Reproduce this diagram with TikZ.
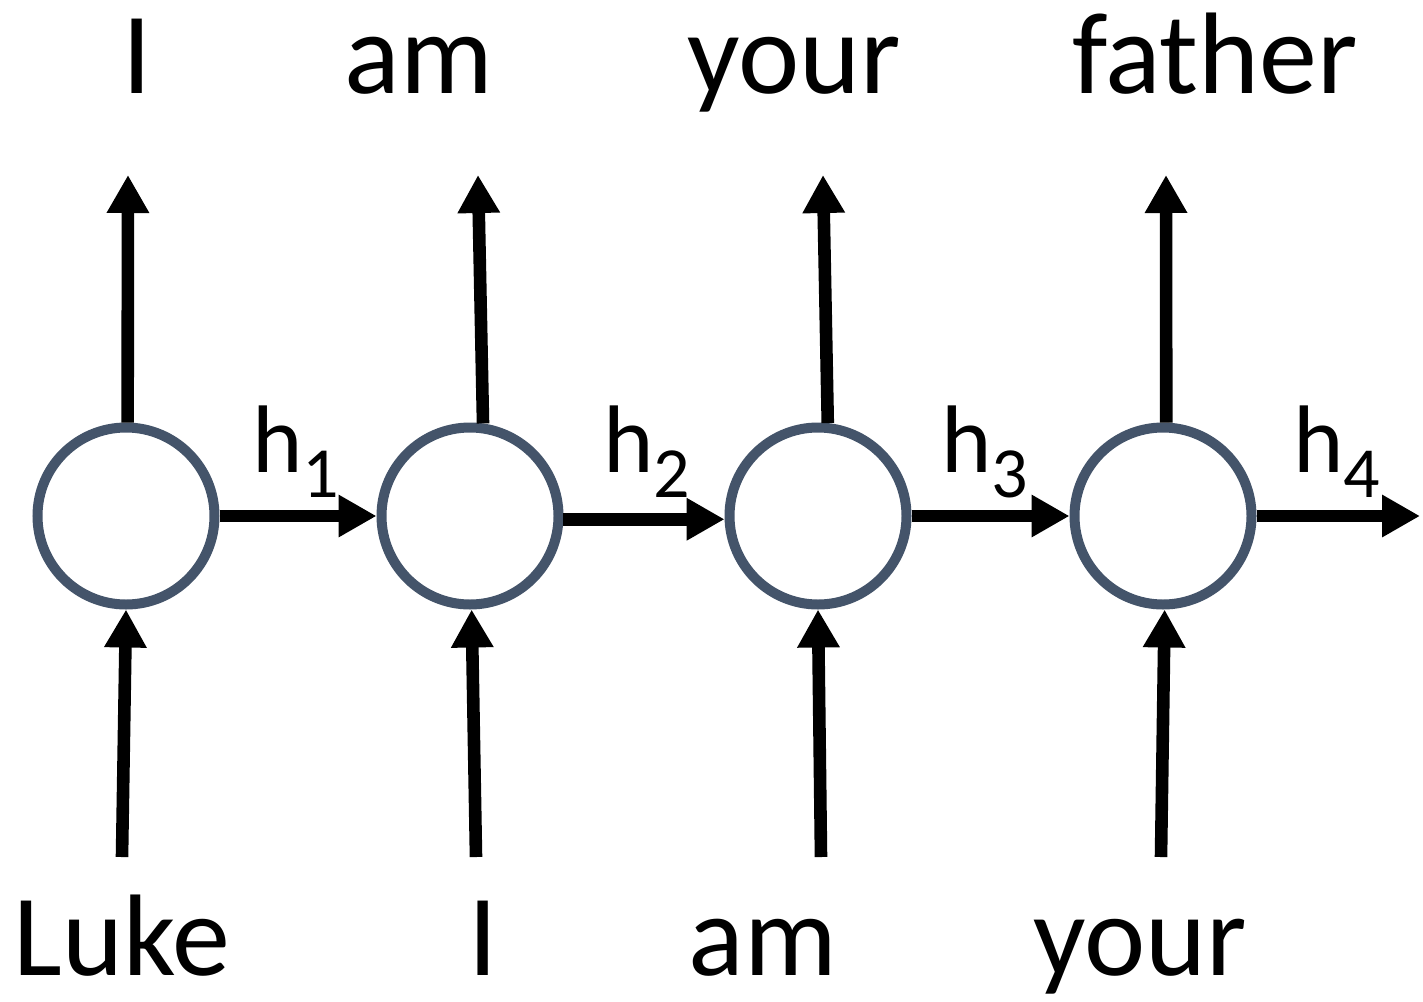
\documentclass[tikz,border=0pt]{standalone}
\usepackage{fontspec}
\setmainfont{Carlito}
\usetikzlibrary{arrows.meta}
\definecolor{cellgray}{HTML}{44546A}
\begin{document}
\begin{tikzpicture}[x=0.5pt,y=-0.5pt,
  cell/.style={circle,draw=cellgray,line width=5pt,fill=white,minimum size=88.5pt,inner sep=0pt},
  conn/.style={line width=6.3pt,-{Triangle[width=20pt,length=19pt]}},
  word/.style={anchor=base,inner sep=0pt,font=\fontsize{58}{58}\selectfont},
  hlab/.style={anchor=base west,inner sep=0pt}]
\useasboundingbox (0,0) rectangle (1423,1001);
\fill[white] (0,0) rectangle (1423,1001);
% cells
\node[cell] (c1) at (126,516) {};
\node[cell] (c2) at (470,516) {};
\node[cell] (c3) at (818,516) {};
\node[cell] (c4) at (1163,516) {};
% free ends
\coordinate (o1) at (128,175);
\coordinate (o2) at (478,175);
\coordinate (o3) at (823,175);
\coordinate (o4) at (1166,175);
\coordinate (i1) at (122,857);
\coordinate (i2) at (476,857);
\coordinate (i3) at (821,857);
\coordinate (i4) at (1161,857);
\coordinate (hout) at (1420,516);
% output arrows
\draw[conn] (c1.89) -- (o1);
\draw[conn] (c2.82) -- (o2);
\draw[conn] (c3.84) -- (o3);
\draw[conn] (c4.88) -- (o4);
% input arrows
\draw[conn] (i1) -- (c1.south);
\draw[conn] (i2) -- (c2.-89);
\draw[conn] (i3) -- (c3.-90);
\draw[conn] (i4) -- (c4.-89);
% recurrent arrows
\draw[conn] (c1.east) -- (c2.west);
\draw[conn] (c2.-2.5) -- (c3.182.5);
\draw[conn] (c3.east) -- (c4.west);
\draw[conn] (c4.east) -- (hout);
% hidden labels
\node[hlab] (h1) at (252,472) {\fontsize{48}{48}\selectfont h\raisebox{-12.5pt}{\fontsize{36}{36}\selectfont 1}};
\node[hlab] (h2) at (603,472) {\fontsize{48}{48}\selectfont h\raisebox{-12.5pt}{\fontsize{36}{36}\selectfont 2}};
\node[hlab] (h3) at (941,472) {\fontsize{48}{48}\selectfont h\raisebox{-12.5pt}{\fontsize{36}{36}\selectfont 3}};
\node[hlab] (h4) at (1293,472) {\fontsize{48}{48}\selectfont h\raisebox{-12.5pt}{\fontsize{36}{36}\selectfont 4}};
% output words
\node[word] (w1) at (137,93) {I};
\node[word] (w2) at (419,93) {am};
\node[word] (w3) at (794,93) {your};
\node[word] (w4) at (1215,93) {father};
% input words
\node[word] (x1) at (122,975) {Luke};
\node[word] (x2) at (483,975) {I};
\node[word] (x3) at (763,975) {am};
\node[word] (x4) at (1140,975) {your};
\end{tikzpicture}
\end{document}
